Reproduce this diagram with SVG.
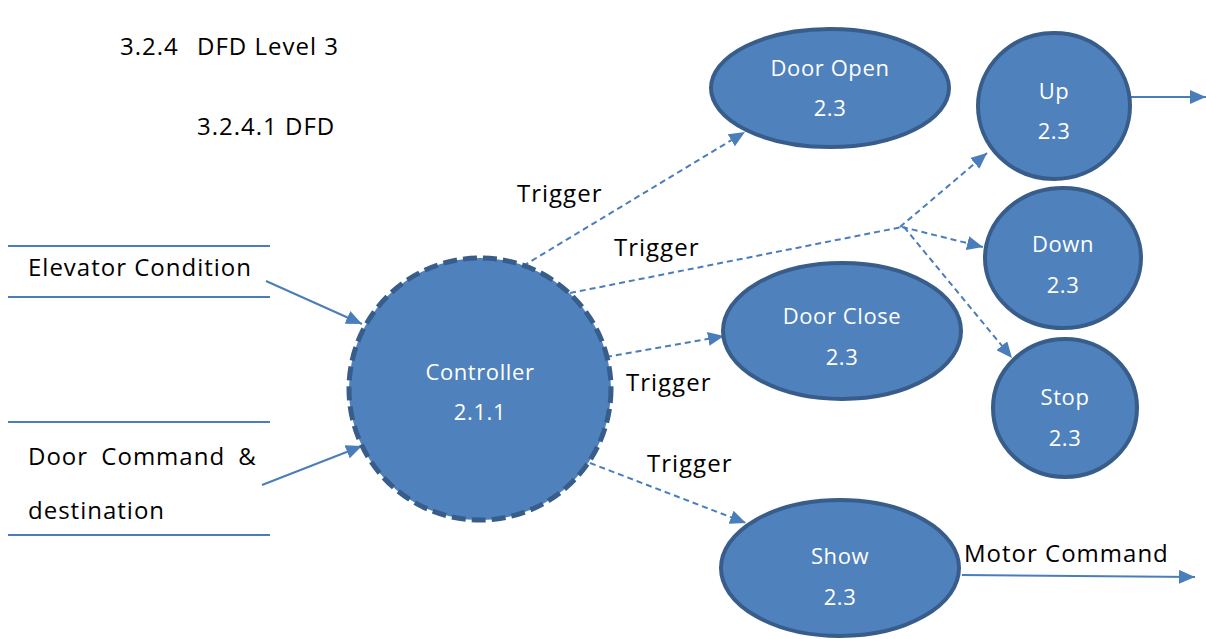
<svg xmlns="http://www.w3.org/2000/svg" width="1206" height="639" viewBox="0 0 1206 639">
<defs>
<marker id="ah" markerUnits="userSpaceOnUse" markerWidth="18" markerHeight="14" refX="16" refY="7" orient="auto">
<path d="M0,0 L16,7 L0,14 Z" fill="#4A7EBB"/>
</marker>
<style>
.node{fill:#4F81BD;stroke:#385D8A;stroke-width:4}
.ctrl{fill:#4F81BD;stroke:#385D8A;stroke-width:5;stroke-dasharray:14 6}
.nt{font-family:"Open Sans","Noto Sans",sans-serif;font-size:22px;fill:#FFFFFF;text-anchor:middle;letter-spacing:0.6px}
.lt{font-family:"Open Sans","Noto Sans",sans-serif;font-size:24px;fill:#000000;letter-spacing:1px}
.solid{stroke:#4A7EBB;stroke-width:2;fill:none}
.dash{stroke:#4A7EBB;stroke-width:2;fill:none;stroke-dasharray:6 4}
.store{stroke:#4A7EBB;stroke-width:2}
</style>
</defs>
<rect width="1206" height="639" fill="#FFFFFF"/>
<g id="titles">
<text class="lt" x="120" y="55">3.2.4</text>
<text class="lt" x="197" y="55">DFD Level 3</text>
<text class="lt" x="197" y="135">3.2.4.1 DFD</text>
</g>
<g id="store-elevator-condition">
<line class="store" x1="8" y1="246" x2="270" y2="246"/>
<line class="store" x1="8" y1="297" x2="270" y2="297"/>
<text class="lt" x="28" y="276">Elevator Condition</text>
</g>
<g id="store-door-command">
<line class="store" x1="8" y1="422" x2="270" y2="422"/>
<line class="store" x1="8" y1="535" x2="270" y2="535"/>
<text class="lt" x="28" y="465" word-spacing="6">Door Command &amp;</text>
<text class="lt" x="28" y="519">destination</text>
</g>
<g id="connectors">
<line class="solid" x1="266" y1="281" x2="362" y2="324" marker-end="url(#ah)"/>
<line class="solid" x1="262" y1="485" x2="362" y2="446" marker-end="url(#ah)"/>
<line class="dash" x1="523" y1="266" x2="745" y2="132" marker-end="url(#ah)"/>
<polyline class="dash" points="570,293 902,227"/>
<line class="dash" x1="900" y1="227" x2="987" y2="153" marker-end="url(#ah)"/>
<line class="dash" x1="902" y1="227" x2="983" y2="247" marker-end="url(#ah)"/>
<line class="dash" x1="904" y1="227" x2="1012" y2="358" marker-end="url(#ah)"/>
<line class="dash" x1="606" y1="357" x2="724" y2="336" marker-end="url(#ah)"/>
<line class="dash" x1="590" y1="463" x2="746" y2="523" marker-end="url(#ah)"/>
<line class="solid" x1="1131" y1="97" x2="1206" y2="97" marker-end="url(#ah)"/>
<line class="solid" x1="962" y1="575" x2="1195" y2="577" marker-end="url(#ah)"/>
<text class="lt" x="517" y="202">Trigger</text>
<text class="lt" x="614" y="256">Trigger</text>
<text class="lt" x="626" y="391">Trigger</text>
<text class="lt" x="647" y="472">Trigger</text>
<text class="lt" x="964" y="562">Motor Command</text>
</g>
<g id="controller">
<circle class="ctrl" cx="480" cy="389" r="131"/>
<text class="nt" x="480" y="380">Controller</text>
<text class="nt" x="480" y="420">2.1.1</text>
</g>
<g id="door-open">
<ellipse class="node" cx="830" cy="88" rx="119" ry="59"/>
<text class="nt" x="830" y="76">Door Open</text>
<text class="nt" x="830" y="116">2.3</text>
</g>
<g id="up">
<ellipse class="node" cx="1054" cy="106" rx="76" ry="73"/>
<text class="nt" x="1054" y="99">Up</text>
<text class="nt" x="1054" y="139">2.3</text>
</g>
<g id="down">
<ellipse class="node" cx="1063" cy="258" rx="78" ry="70"/>
<text class="nt" x="1063" y="252">Down</text>
<text class="nt" x="1063" y="293">2.3</text>
</g>
<g id="stop">
<ellipse class="node" cx="1065" cy="408" rx="72" ry="69"/>
<text class="nt" x="1065" y="405">Stop</text>
<text class="nt" x="1065" y="446">2.3</text>
</g>
<g id="door-close">
<ellipse class="node" cx="842" cy="331" rx="119" ry="68"/>
<text class="nt" x="842" y="324">Door Close</text>
<text class="nt" x="842" y="365">2.3</text>
</g>
<g id="show">
<ellipse class="node" cx="840" cy="568" rx="119" ry="68"/>
<text class="nt" x="840" y="564">Show</text>
<text class="nt" x="840" y="605">2.3</text>
</g>
</svg>
